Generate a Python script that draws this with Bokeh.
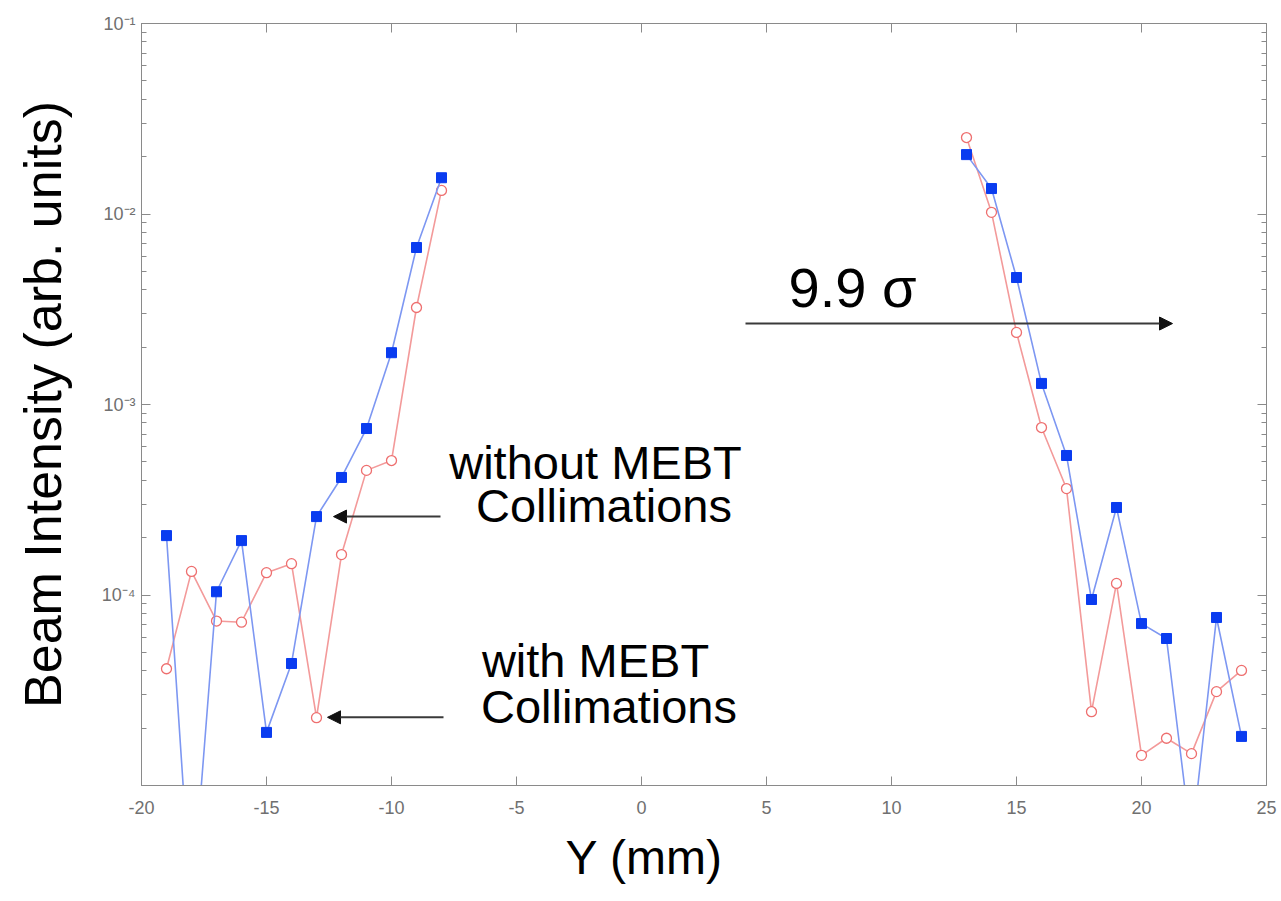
from bokeh.plotting import figure
from bokeh.models import (ColumnDataSource, FixedTicker, LinearAxis, LogAxis,
                          Arrow, NormalHead, Label, Range1d, Title)
from bokeh.embed import file_html
from bokeh.resources import INLINE

# ---------------- data ----------------
pos_left = [-19, -18, -17, -16, -15, -14, -13, -12, -11, -10, -9, -8]
pos_right = [13, 14, 15, 16, 17, 18, 19, 20, 21, 22, 23, 24]

without_left = [2.05e-4, 2.2e-6, 1.04e-4, 1.93e-4, 1.9e-5, 4.37e-5,
                2.58e-4, 4.14e-4, 7.48e-4, 1.87e-3, 6.67e-3, 1.55e-2]
with_left = [4.1e-5, 1.33e-4, 7.3e-5, 7.2e-5, 1.31e-4, 1.46e-4,
             2.27e-5, 1.63e-4, 4.51e-4, 5.08e-4, 3.23e-3, 1.33e-2]
without_right = [2.05e-2, 1.36e-2, 4.64e-3, 1.29e-3, 5.4e-4, 9.47e-5,
                 2.88e-4, 7.08e-5, 5.91e-5, 5.0e-6, 7.62e-5, 1.81e-5]
with_right = [2.52e-2, 1.02e-2, 2.39e-3, 7.57e-4, 3.62e-4, 2.44e-5,
              1.15e-4, 1.44e-5, 1.77e-5, 1.47e-5, 3.11e-5, 4.02e-5]

x_ticks = [-20, -15, -10, -5, 0, 5, 10, 15, 20, 25]
x_tick_labels = ["-20", "-15", "-10", "-5", "0", "5", "10", "15", "20", "25"]
y_ticks = [1e-4, 1e-3, 1e-2, 1e-1]
y_tick_labels = ["10\u207b\u2074", "10\u207b\u00b3", "10\u207b\u00b2", "10\u207b\u00b9"]
y_minor = [m * 10.0 ** e for e in (-5, -4, -3, -2) for m in range(2, 10)]

x_title = "Y (mm)"
y_title = "Beam Intensity (arb. units)"

# ---------------- figure ----------------
FONT = "Liberation Sans"
AX = "#8a8a8a"
TICKLAB = "#707070"

p = figure(width=1281, height=901, output_backend="svg", toolbar_location=None,
           x_range=Range1d(-20, 25), y_range=Range1d(1e-5, 1e-1),
           y_axis_type="log",
           min_border_left=141, min_border_right=15,
           min_border_top=23, min_border_bottom=116)
p.background_fill_color = "white"
p.border_fill_color = "white"
p.outline_line_color = AX
p.xgrid.visible = False
p.ygrid.visible = False

xt = FixedTicker(ticks=x_ticks)
yt = FixedTicker(ticks=y_ticks, minor_ticks=y_minor)

p.xaxis.ticker = xt
p.xaxis.major_label_overrides = {t: l for t, l in zip(x_ticks, x_tick_labels)}
p.yaxis.ticker = yt
p.yaxis.major_label_overrides = {t: l for t, l in zip(y_ticks, y_tick_labels)}

for ax in (p.xaxis, p.yaxis):
    ax.axis_line_color = AX
    ax.major_tick_line_color = AX
    ax.minor_tick_line_color = AX
    ax.major_tick_in = 9
    ax.major_tick_out = 0
    ax.minor_tick_in = 5
    ax.minor_tick_out = 0
    ax.major_label_text_font = FONT
    ax.major_label_text_color = TICKLAB

p.xaxis.major_label_text_font_size = "18px"
p.xaxis.major_label_standoff = 15
p.yaxis.major_label_text_font_size = "18px"
p.yaxis.major_label_standoff = 6

p.yaxis.axis_label = y_title
p.yaxis.axis_label_text_font = FONT
p.yaxis.axis_label_text_font_style = "normal"
p.yaxis.axis_label_text_font_size = "52px"
p.yaxis.axis_label_text_color = "black"
p.yaxis.axis_label_standoff = 27

top = LinearAxis(ticker=xt, major_label_text_font_size="1px",
                 major_label_text_color=None,
                 axis_line_color=AX, major_tick_line_color=AX,
                 major_tick_in=9, major_tick_out=0, minor_tick_line_color=None)
right = LogAxis(ticker=yt, major_label_text_font_size="1px",
                major_label_text_color=None,
                axis_line_color=AX, major_tick_line_color=AX, minor_tick_line_color=AX,
                major_tick_in=9, major_tick_out=0, minor_tick_in=5, minor_tick_out=0)
p.add_layout(top, "above")
p.add_layout(right, "right")

# x title as a below-title, shifted left as in the reference
p.add_layout(Title(text=x_title, align="left", offset=424, standoff=24,
                   text_font=FONT, text_font_size="48px", text_font_style="normal",
                   text_color="black"), "below")

# ---------------- series ----------------
RED_LINE = "#f39a9a"
RED_MK = "#ee6f6f"
BLUE_LINE = "#7d97f2"
BLUE_MK = "#0a3cf0"

for xs, ys in ((pos_left, with_left), (pos_right, with_right)):
    src = ColumnDataSource(dict(x=xs, y=ys))
    p.line("x", "y", source=src, line_color=RED_LINE, line_width=1.6)
    p.scatter("x", "y", source=src, marker="circle", size=10,
              fill_color="white", line_color=RED_MK, line_width=1.3)

for xs, ys in ((pos_left, without_left), (pos_right, without_right)):
    src = ColumnDataSource(dict(x=xs, y=ys))
    p.line("x", "y", source=src, line_color=BLUE_LINE, line_width=1.6)
    p.scatter("x", "y", source=src, marker="square", size=10,
              fill_color=BLUE_MK, line_color=BLUE_MK)

# ---------------- annotations ----------------
ARROW = "#3a3a3a"
def arrow(x0, x1, y):
    p.add_layout(Arrow(end=NormalHead(size=13, fill_color="#111", line_color="#111"),
                       x_start=x0, y_start=y, x_end=x1, y_end=y,
                       line_color=ARROW, line_width=2))

arrow(4.16, 21.24, 2.66e-3)
arrow(-8.04, -12.32, 2.58e-4)
arrow(-7.92, -12.56, 2.28e-5)

def label(x, y, text, size):
    p.add_layout(Label(x=x, y=y, text=text, text_font=FONT, text_font_size=size,
                       text_align="center", text_baseline="middle",
                       text_color="black"))

label(8.44, 4.11e-3, "9.9 \u03c3", "56px")
label(-1.84, 4.96e-4, "without MEBT", "47px")
label(-1.5, 2.95e-4, "Collimations", "47px")
label(-1.84, 4.53e-5, "with MEBT", "47px")
label(-1.3, 2.6e-5, "Collimations", "47px")

open("out.html", "w").write(file_html(p, INLINE))
